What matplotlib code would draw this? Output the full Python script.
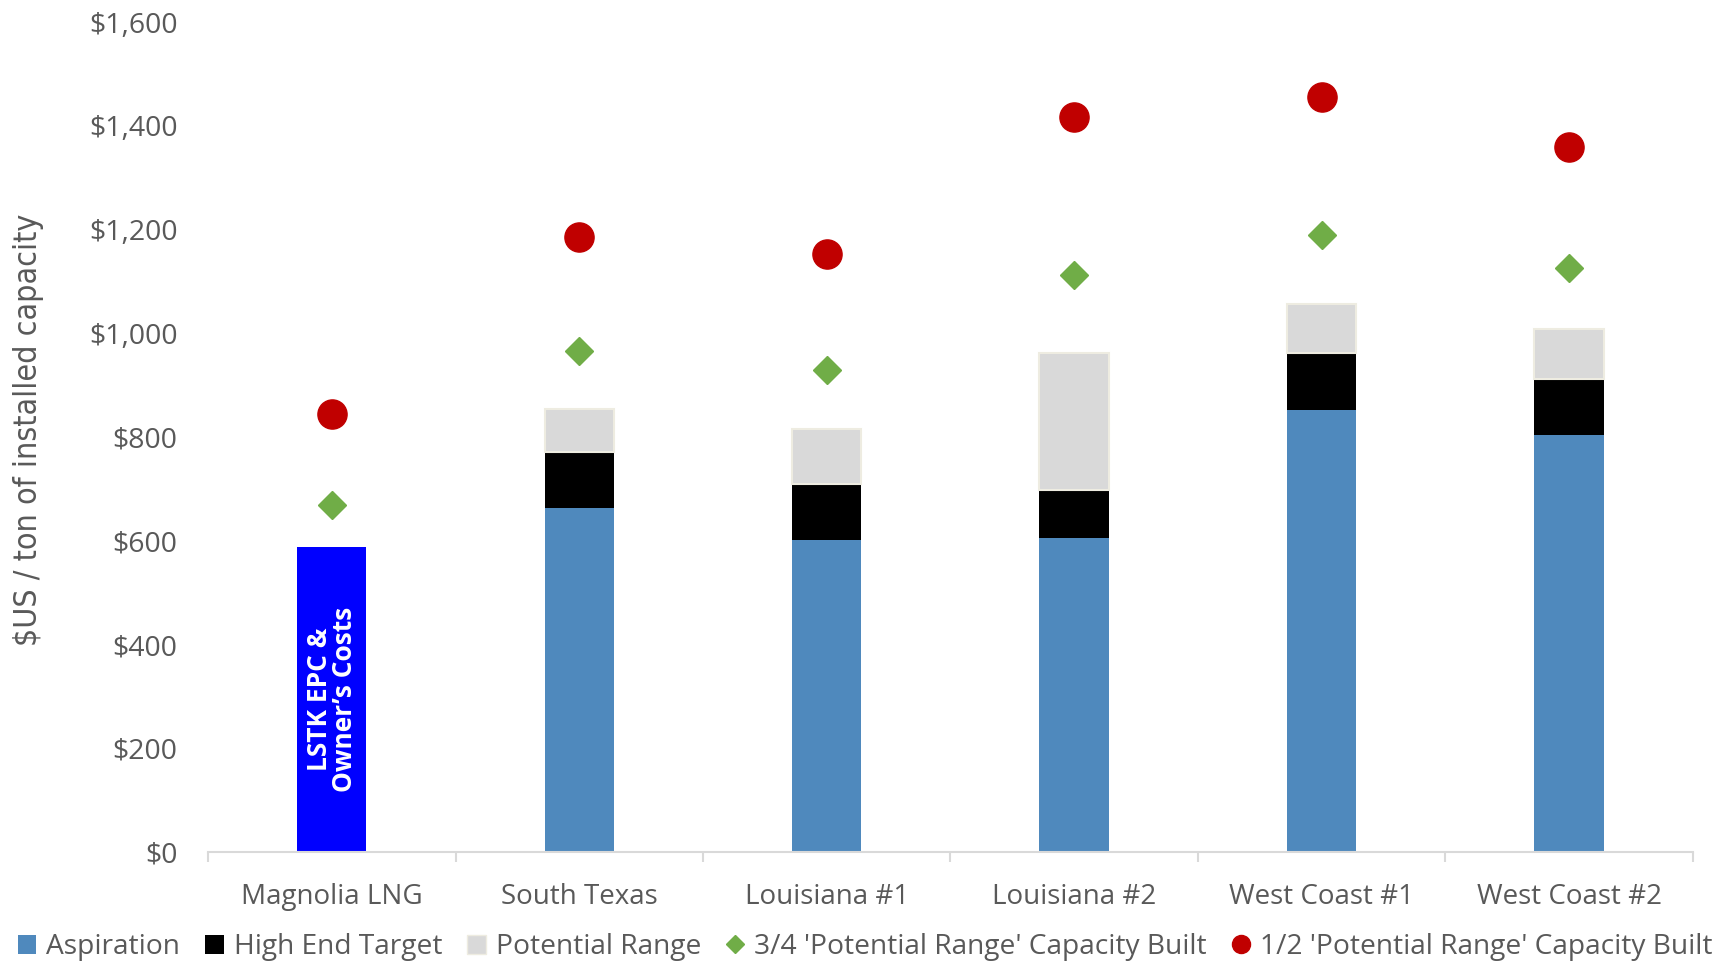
import numpy as np
import matplotlib.pyplot as plt
from matplotlib import font_manager as fm
from matplotlib.patches import Patch
from matplotlib.lines import Line2D

# Datos ($US / ton de capacidad instalada)
proyectos = ["Magnolia LNG", "South Texas", "Louisiana #1", "Louisiana #2",
             "West Coast #1", "West Coast #2"]
aspiracion = [588, 663, 601, 605, 852, 803]
high_end = [0, 108, 109, 92, 109, 109]
rango_potencial = [0, 83, 106, 264, 96, 96]
tres_cuartos = [669, 965, 929, 1112, 1189, 1125]
un_medio = [844, 1185, 1153, 1417, 1455, 1359]

yticks = [0, 200, 400, 600, 800, 1000, 1200, 1400, 1600]

# Colores
c_asp = "#4F89BD"
c_magnolia = "#0000FF"
c_high = "#000000"
c_rango = "#D9D9D9"
c_verde = "#70AD47"
c_rojo = "#C00000"
c_texto = "#595959"
c_eje = "#D9D9D9"

fuente = ["Open Sans", "DejaVu Sans"]
plt.rcParams["font.family"] = fuente

# Fuente estrecha para el titulo del eje y (si existe)
instaladas = {f.name for f in fm.fontManager.ttflist}
if "Liberation Sans Narrow" in instaladas:
    fuente_y = dict(family=["Liberation Sans Narrow", "DejaVu Sans"], fontsize=23)
else:
    fuente_y = dict(family=["DejaVu Sans"], fontstretch="condensed", fontsize=23)

fig = plt.figure(figsize=(17.31, 9.61), dpi=100)
ax = fig.add_axes([0.1202, 0.1134, 0.8577, 0.8637])

x = np.arange(len(proyectos))
ancho = 0.28
colores_asp = [c_magnolia] + [c_asp] * (len(proyectos) - 1)

base = np.array(aspiracion, dtype=float)
ax.bar(x, aspiracion, ancho, color=colores_asp, zorder=2)
ax.bar(x, high_end, ancho, bottom=base, color=c_high, zorder=2)
base = base + np.array(high_end)
ax.bar(x[1:], rango_potencial[1:], ancho, bottom=base[1:], color=c_rango,
       edgecolor="#EEECE1", linewidth=1.5, zorder=2)

ax.plot(x, tres_cuartos, linestyle="none", marker="D", markersize=14.5,
        color=c_verde, zorder=3)
ax.plot(x, un_medio, linestyle="none", marker="o", markersize=21,
        color=c_rojo, zorder=3)

# Texto dentro de la barra de Magnolia
ax.text(x[0], aspiracion[0] / 2, "LSTK EPC &\nOwner\u2019s Costs", rotation=90,
        ha="center", va="center", color="white", fontsize=19,
        fontweight="bold", linespacing=0.88, zorder=4)

# Ejes
ax.set_xlim(-0.5, len(proyectos) - 0.5)
ax.set_ylim(0, 1600)
ax.set_yticks(yticks)
ax.set_yticklabels([f"${v:,.0f}" for v in yticks])
ax.set_xticks(x)
ax.set_xticklabels(proyectos)
ax.set_xticks(np.arange(-0.5, len(proyectos)), minor=True)
ax.tick_params(axis="x", which="major", length=0, pad=22, labelsize=20,
               labelcolor=c_texto)
ax.tick_params(axis="x", which="minor", length=7.5, width=1.5, color=c_eje)
ax.tick_params(axis="y", length=0, pad=22, labelsize=20.5, labelcolor=c_texto)
for lado in ["top", "right", "left"]:
    ax.spines[lado].set_visible(False)
ax.spines["bottom"].set_color(c_eje)
ax.spines["bottom"].set_linewidth(1.5)

fig.text(0.0165, 0.553, "$US / ton of installed capacity", rotation=90,
         ha="center", va="center", color=c_texto, **fuente_y)

# Leyenda
handles = [
    Patch(facecolor=c_asp, label="Aspiration"),
    Patch(facecolor=c_high, label="High End Target"),
    Patch(facecolor=c_rango, edgecolor="#EEECE1", label="Potential Range"),
    Line2D([], [], linestyle="none", marker="D", markersize=9, color=c_verde,
           label="3/4 'Potential Range' Capacity Built"),
    Line2D([], [], linestyle="none", marker="o", markersize=13, color=c_rojo,
           label="1/2 'Potential Range' Capacity Built"),
]
leg = fig.legend(handles=handles, loc="center left",
                 bbox_to_anchor=(0.004, 1 - 947 / 961), ncol=5, frameon=False,
                 fontsize=20.25, handlelength=0.65, handleheight=0.65,
                 handletextpad=0.35, columnspacing=0.9, borderaxespad=0)
for t in leg.get_texts():
    t.set_color(c_texto)

fig.savefig("out.png", dpi=100)
